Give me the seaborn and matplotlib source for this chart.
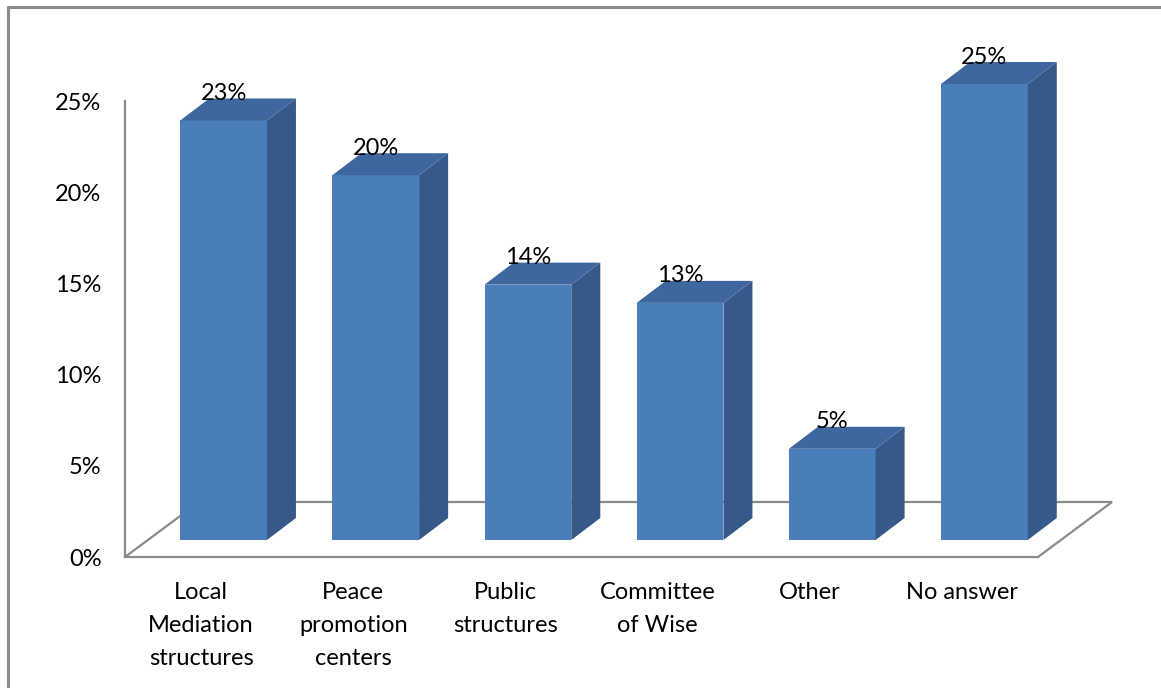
import matplotlib
matplotlib.use("Agg")
import matplotlib.pyplot as plt
import matplotlib.transforms as mtransforms
from matplotlib.patches import Polygon
from matplotlib.lines import Line2D
import seaborn as sns
import pandas as pd

# Survey results
categories = ["Local\nMediation\nstructures", "Peace\npromotion\ncenters",
              "Public\nstructures", "Committee\nof Wise", "Other", "No answer"]
values = [23, 20, 14, 13, 5, 25]
value_labels = ["23%", "20%", "14%", "13%", "5%", "25%"]
yticks = [0, 5, 10, 15, 20, 25]
ytick_labels = ["0%", "5%", "10%", "15%", "20%", "25%"]

FRONT = "#4a7ebb"
SIDE = "#36598a"
TOP = "#3d679e"
GRID = "#8a8a8a"
FS = 17

sns.set_theme(style="white")
plt.rcParams["font.family"] = ["Lato", "DejaVu Sans"]

DPI = 100
W, H = 1161, 688
fig = plt.figure(figsize=(W / DPI, H / DPI), dpi=DPI)
fig.patch.set_facecolor("white")

# axes placed on the front plane of the 3-D floor
ax_l, ax_b, ax_w, ax_h = 125, 557, 913, 456  # pixels (bottom measured from top)
ax = fig.add_axes([ax_l / W, (H - ax_b) / H, ax_w / W, ax_h / H])
ax.set_facecolor("none")

df = pd.DataFrame({"category": categories, "value": values})
sns.barplot(data=df, x="category", y="value", color=FRONT, width=0.57,
            saturation=1, ax=ax, zorder=3)

ax.set_xlim(-0.5, len(categories) - 0.5)
ax.set_ylim(0, 25)
ax.set_yticks(yticks)
ax.set_yticklabels(ytick_labels)
ax.set_xlabel("")
ax.set_ylabel("")
ax.tick_params(axis="both", length=0, labelsize=FS, colors="black")
ax.tick_params(axis="y", pad=17)
ax.tick_params(axis="x", pad=18)
for lab in ax.get_xticklabels():
    lab.set_linespacing(1.7)

for s in ["top", "right"]:
    ax.spines[s].set_visible(False)
for s in ["left", "bottom"]:
    ax.spines[s].set_color(GRID)
    ax.spines[s].set_linewidth(1.6)
ax.spines["left"].set_bounds(0, 25)

# depth geometry in pixels (y up)
floor_dx, floor_dy = 74, 55      # full floor depth
bar_dx, bar_dy = 22.5, 17        # bar front offset from the front plane
side_dx, side_dy = 29, 22        # bar thickness in depth

fig.canvas.draw()
to_disp = ax.transData
ident = mtransforms.IdentityTransform()

# floor outline (back and sides), kept behind the bars
x0, y0 = to_disp.transform((-0.5, 0))
x1, _ = to_disp.transform((len(categories) - 0.5, 0))
floor = [(x0, y0), (x0 + floor_dx, y0 + floor_dy),
         (x1 + floor_dx, y0 + floor_dy), (x1, y0)]
ax.add_line(Line2D([p[0] for p in floor], [p[1] for p in floor],
                   transform=ident, color=GRID, lw=1.6, zorder=1,
                   solid_joinstyle="miter", clip_on=False))

# shift bars back into the floor and add side and top faces
shift = mtransforms.ScaledTranslation(bar_dx / DPI, bar_dy / DPI, fig.dpi_scale_trans)
for patch, lab in zip(ax.patches, value_labels):
    patch.set_transform(ax.transData + shift)
    patch.set_edgecolor("none")
    patch.set_clip_on(False)
    bx, by = patch.get_x(), patch.get_y()
    bw, bh = patch.get_width(), patch.get_height()
    (l, b) = to_disp.transform((bx, by))
    (r, t) = to_disp.transform((bx + bw, by + bh))
    l += bar_dx; r += bar_dx; b += bar_dy; t += bar_dy
    side = Polygon([(r, b), (r + side_dx, b + side_dy), (r + side_dx, t + side_dy), (r, t)],
                   closed=True, transform=ident, facecolor=SIDE, edgecolor="none",
                   zorder=4, clip_on=False)
    top = Polygon([(l, t), (l + side_dx, t + side_dy), (r + side_dx, t + side_dy), (r, t)],
                  closed=True, transform=ident, facecolor=TOP, edgecolor="none",
                  zorder=4, clip_on=False)
    ax.add_patch(side)
    ax.add_patch(top)
    ax.text((l + r) / 2, t + 27, lab, transform=ident, ha="center", va="center",
            fontsize=FS, color="black", zorder=6, clip_on=False)

# chart frame (top and left edges)
fig.add_artist(Line2D([8 / W, 1], [1 - 7 / H, 1 - 7 / H], transform=fig.transFigure,
                      color=GRID, lw=2.2))
fig.add_artist(Line2D([8 / W, 8 / W], [0, 1 - 7 / H], transform=fig.transFigure,
                      color=GRID, lw=2.2))

fig.savefig("out.png", dpi=DPI)
